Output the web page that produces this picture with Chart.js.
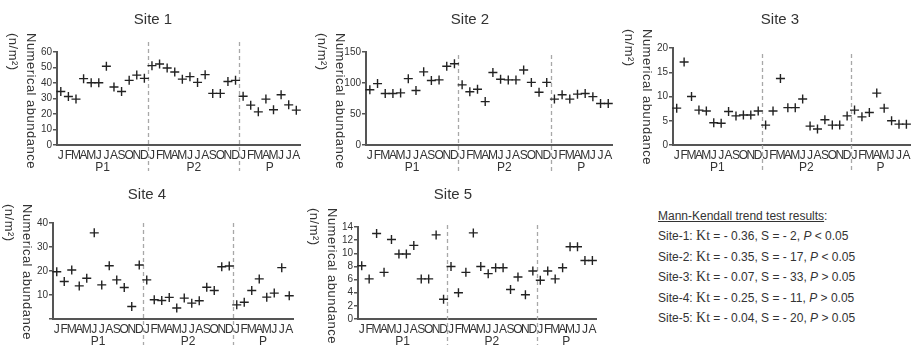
<!DOCTYPE html>
<html>
<head>
<meta charset="utf-8">
<script src="https://cdn.jsdelivr.net/npm/chart.js@4/dist/chart.umd.min.js"></script>
<style>
  body { margin: 0; background: #fff; }
  #wrap { position: relative; width: 916px; height: 348px; overflow: hidden; background: #fff; }
  #wrap canvas { position: absolute; }
  #mk { position: absolute; left: 658px; top: 207px; font-family: 'Liberation Sans', sans-serif;
        font-size: 12px; color: #333; line-height: 19.4px; white-space: nowrap; }
  #mk .hd { text-decoration: underline; }
  #mk .kt { font-family: 'Liberation Serif', serif; font-size: 14px; }
</style>
</head>
<body>
<div id="wrap">
  <canvas id="c1"></canvas>
  <canvas id="c2"></canvas>
  <canvas id="c3"></canvas>
  <canvas id="c4"></canvas>
  <canvas id="c5"></canvas>
  <div id="mk"></div>
</div>
<script>
// month letters along the x axis, grouped by period
const months = ['J', 'F', 'M', 'A', 'M', 'J', 'J', 'A', 'S', 'O', 'N', 'D'];
const periods = ['P1', 'P2', 'P'];
const periodMonths = [12, 12, 8];
const monthLabels = [...months, ...months, ...months.slice(0, 8)];

const siteNames = ['Site 1', 'Site 2', 'Site 3', 'Site 4', 'Site 5'];

// numerical abundance (n/m2), one value per month
const site1 = [34.5, 31.3, 29.6, 42.8, 40.2, 40.2, 50.8, 37.4, 34.5, 41.7, 45.1, 43.0,
               51.2, 52.3, 49.7, 47.1, 42.5, 44.1, 40.4, 45.4, 33.3, 33.3, 41.0, 41.7,
               31.5, 25.7, 21.4, 29.6, 22.7, 32.4, 25.9, 22.5];
const site2 = [89, 99, 83, 83, 84, 107, 88, 118, 104, 105, 127, 131,
               97, 86, 90, 70, 117, 106, 105, 105, 121, 101, 85, 101,
               74, 81, 74, 82, 83, 78, 67, 67];
const site3 = [7.6, 17.1, 10.0, 7.2, 7.0, 4.6, 4.5, 6.9, 6.0, 6.2, 6.2, 7.0,
               4.1, 7.0, 13.7, 7.7, 7.7, 9.5, 3.9, 3.3, 5.2, 4.1, 4.1, 6.0,
               7.2, 5.8, 6.7, 10.7, 7.6, 5.0, 4.3, 4.3];
const site4 = [19.7, 15.6, 20.4, 13.8, 17.0, 35.9, 14.2, 22.2, 16.3, 13.1, 5.2, 22.5,
               16.3, 8.0, 7.7, 9.0, 4.6, 8.7, 6.6, 7.6, 13.2, 11.9, 21.8, 22.1,
               5.9, 7.0, 11.9, 16.7, 9.1, 10.8, 21.4, 9.7];
const site5 = [8.1, 6.1, 13.0, 7.1, 12.1, 9.9, 9.9, 11.2, 6.1, 6.1, 12.8, 3.0,
               8.0, 4.0, 7.1, 13.1, 8.0, 6.9, 7.8, 7.8, 4.5, 6.4, 3.7, 7.3,
               5.9, 7.3, 6.1, 7.8, 11.0, 11.0, 8.9, 8.9];
const siteValues = [site1, site2, site3, site4, site5];

// y axis ranges
const yMax = [60, 150, 20, 40, 14];
const yStep = [10, 50, 5, 10, 2];

// Mann-Kendall results
const mkKt = [-0.36, -0.35, -0.07, -0.25, -0.04];
const mkS = [-2, -17, -33, -11, -20];
const mkP = ['<', '<', '>', '>', '>'];

const FONT = "'Liberation Sans', Arial, sans-serif";
const INK = '#333';

// canvas placement and padding for each panel
const panels = [
  { left: 0,   top: 0,   w: 306, h: 174, pad: { left: 31, top: 52, right: 4, bottom: 0 }, titleX: 153, titleY: 20, dashTop: -10 },
  { left: 309, top: 0,   w: 309, h: 174, pad: { left: 31, top: 52, right: 4, bottom: 0 }, titleX: 161, titleY: 20, dashTop: 3 },
  { left: 620, top: 0,   w: 296, h: 174, pad: { left: 27, top: 48, right: 2, bottom: 0 }, titleX: 160, titleY: 20, dashTop: 6 },
  { left: 0,   top: 174, w: 300, h: 174, pad: { left: 27, top: 49, right: 7, bottom: 0 }, titleX: 147, titleY: 21, dashTop: 0 },
  { left: 306, top: 174, w: 296, h: 174, pad: { left: 26, top: 53, right: 4, bottom: 0 }, titleX: 147, titleY: 21, dashTop: -2 },
];

// titles, y-axis title, period separators and period labels
const panelDecor = {
  id: 'panelDecor',
  beforeDatasetsDraw(chart, args, opts) {
    const { ctx, chartArea: a, scales: { x } } = chart;
    ctx.save();
    ctx.setLineDash([4, 3]);
    ctx.strokeStyle = '#a8a8a8';
    ctx.lineWidth = 1.3;
    let start = 0;
    periodMonths.forEach((n, gi) => {
      if (gi > 0) {
        const bx = Math.round((x.getPixelForValue(start - 1) + x.getPixelForValue(start)) / 2) + 0.5;
        ctx.beginPath();
        ctx.moveTo(bx, a.top + opts.dashTop);
        ctx.lineTo(bx, a.bottom + 26);
        ctx.stroke();
      }
      start += n;
    });
    ctx.restore();
  },
  afterDraw(chart, args, opts) {
    const { ctx, chartArea: a, scales: { x } } = chart;
    ctx.save();
    ctx.fillStyle = INK;
    ctx.font = '15px ' + FONT;
    ctx.textAlign = 'center';
    ctx.textBaseline = 'middle';
    ctx.fillText(opts.title, opts.titleX, opts.titleY);

    // period labels under the month letters
    ctx.font = '12px ' + FONT;
    let start = 0;
    periodMonths.forEach((n, gi) => {
      const cx = (x.getPixelForValue(start) + x.getPixelForValue(start + n - 1)) / 2;
      ctx.fillText(periods[gi], cx, a.bottom + 23);
      start += n;
    });

    // y title, reading downwards
    ctx.translate(a.left - 26, a.top - 19);
    ctx.rotate(Math.PI / 2);
    ctx.textAlign = 'left';
    ctx.font = '13px ' + FONT;
    ctx.letterSpacing = '0.5px';
    ctx.fillText('Numerical abundance', 0, 0);
    ctx.fillText('(n/m²)', 0, 18);
    ctx.restore();
  }
};

siteValues.forEach((vals, i) => {
  const p = panels[i];
  const cv = document.getElementById('c' + (i + 1));
  cv.width = p.w; cv.height = p.h;
  cv.style.left = p.left + 'px'; cv.style.top = p.top + 'px';
  cv.style.width = p.w + 'px'; cv.style.height = p.h + 'px';

  new Chart(cv.getContext('2d'), {
    type: 'line',
    data: {
      labels: monthLabels,
      datasets: [{
        data: vals,
        showLine: false,
        pointStyle: 'cross',
        pointRadius: 4.5,
        pointBorderWidth: 1.4,
        borderColor: '#222',
        backgroundColor: '#222',
      }]
    },
    options: {
      responsive: false,
      animation: false,
      events: [],
      layout: { padding: p.pad },
      plugins: {
        legend: { display: false },
        tooltip: { enabled: false },
        panelDecor: { title: siteNames[i], titleX: p.titleX, titleY: p.titleY, dashTop: p.dashTop },
      },
      scales: {
        x: {
          type: 'category',
          offset: true,
          ticks: { autoSkip: false, maxRotation: 0, minRotation: 0, color: INK, padding: 3, font: { size: 12, family: FONT } },
          grid: { drawOnChartArea: false, drawTicks: false },
          border: { color: '#555', width: 2 },
          afterFit: (s) => { s.height = 29; },
        },
        y: {
          min: 0,
          max: yMax[i],
          ticks: {
            stepSize: yStep[i], autoSkip: false, color: INK, padding: 1, font: { size: 10, family: FONT },
            callback: (v) => (i === 3 && v === 0) ? '' : v,
          },
          grid: { drawOnChartArea: false, drawTicks: true, tickLength: 4, color: '#555', lineWidth: 1.5 },
          border: { color: '#555', width: 2 },
          afterFit: (s) => { s.width = 26; },
        }
      }
    },
    plugins: [panelDecor],
  });
});

// Mann-Kendall text block
const fmt = (v) => '- ' + Math.abs(v);
let html = '<div><span class="hd">Mann-Kendall trend test results</span>:</div>';
mkKt.forEach((kt, i) => {
  html += '<div>Site-' + (i + 1) + ': <span class="kt">Kt</span> = - ' + Math.abs(kt).toFixed(2) +
          ', S = ' + fmt(mkS[i]) + ', <i>P</i> ' + (mkP[i] === '<' ? '&lt;' : '&gt;') + ' 0.05</div>';
});
document.getElementById('mk').innerHTML = html;
</script>
</body>
</html>
